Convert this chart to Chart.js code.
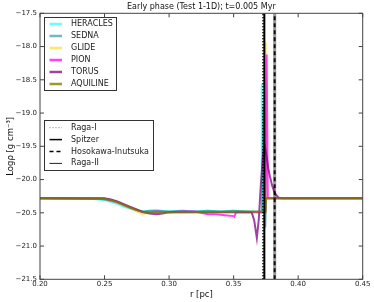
<!DOCTYPE html>
<html>
<head>
<meta charset="utf-8">
<script src="https://cdn.jsdelivr.net/npm/chart.js@4"></script>
<style>
  html, body { margin: 0; padding: 0; background: #fff; }
  #wrap { width: 374px; height: 302px; }
</style>
</head>
<body>
<div id="wrap"><canvas id="densityChart" width="374" height="302"></canvas></div>
<script>
// r [pc] and log rho values, one pair of arrays per code
const heraclesR = [0.20, 0.24, 0.245, 0.25, 0.255, 0.26, 0.265, 0.27, 0.275, 0.28, 0.285, 0.29, 0.295, 0.30, 0.31, 0.32, 0.33, 0.34, 0.35, 0.36, 0.37, 0.3715, 0.3718, 0.3746, 0.3749, 0.45];
const heraclesRho = [-20.28, -20.29, -20.30, -20.31, -20.34, -20.37, -20.41, -20.44, -20.47, -20.48, -20.47, -20.46, -20.47, -20.48, -20.47, -20.48, -20.47, -20.48, -20.47, -20.48, -20.48, -20.49, -18.57, -18.57, -20.28, -20.28];

const sednaR = [0.20, 0.245, 0.25, 0.255, 0.26, 0.265, 0.27, 0.275, 0.28, 0.285, 0.29, 0.30, 0.31, 0.32, 0.33, 0.34, 0.35, 0.36, 0.372, 0.373, 0.3745, 0.3752, 0.45];
const sednaRho = [-20.28, -20.29, -20.30, -20.32, -20.35, -20.39, -20.43, -20.46, -20.48, -20.47, -20.47, -20.48, -20.47, -20.48, -20.47, -20.48, -20.47, -20.48, -20.49, -18.9, -20.72, -20.28, -20.28];

const glideR = [0.20, 0.25, 0.255, 0.26, 0.265, 0.27, 0.275, 0.278, 0.282, 0.29, 0.30, 0.35, 0.374, 0.3748, 0.3756, 0.45];
const glideRho = [-20.28, -20.29, -20.31, -20.35, -20.39, -20.43, -20.48, -20.51, -20.51, -20.49, -20.49, -20.49, -20.49, -17.94, -20.28, -20.28];

const pionR = [0.20, 0.25, 0.255, 0.26, 0.265, 0.27, 0.275, 0.28, 0.285, 0.29, 0.30, 0.31, 0.32, 0.325, 0.33, 0.335, 0.34, 0.345, 0.35, 0.3505, 0.352, 0.36, 0.3745, 0.3756, 0.3765, 0.45];
const pionRho = [-20.28, -20.29, -20.31, -20.34, -20.38, -20.42, -20.46, -20.49, -20.49, -20.48, -20.49, -20.48, -20.48, -20.50, -20.52, -20.52, -20.53, -20.54, -20.55, -20.56, -20.49, -20.49, -20.49, -18.12, -20.28, -20.28];

const torusR = [0.20, 0.25, 0.255, 0.26, 0.265, 0.27, 0.275, 0.28, 0.285, 0.29, 0.295, 0.30, 0.35, 0.364, 0.366, 0.368, 0.3695, 0.371, 0.3725, 0.3738, 0.3756, 0.377, 0.3782, 0.38, 0.382, 0.3846, 0.387, 0.45];
const torusRho = [-20.28, -20.28, -20.30, -20.33, -20.37, -20.41, -20.45, -20.49, -20.51, -20.52, -20.51, -20.49, -20.49, -20.49, -20.62, -20.88, -20.6, -20.1, -19.7, -19.45, -19.66, -19.85, -19.96, -20.10, -20.21, -20.27, -20.28, -20.28];

const aquilineR = [0.20, 0.25, 0.255, 0.26, 0.265, 0.27, 0.275, 0.28, 0.285, 0.29, 0.30, 0.374, 0.3748, 0.3752, 0.45];
const aquilineRho = [-20.28, -20.29, -20.31, -20.34, -20.38, -20.42, -20.46, -20.49, -20.50, -20.50, -20.49, -20.48, -20.48, -20.28, -20.28];

// analytic ionisation-front positions
const frontNames = ['Raga-I', 'Spitzer', 'Hosokawa-Inutsuka', 'Raga-II'];
const frontR = [0.3728, 0.3738, 0.3818, 0.3818];

const xTicks = [0.20, 0.25, 0.30, 0.35, 0.40, 0.45];
const yTicks = [-21.5, -21.0, -20.5, -20.0, -19.5, -19.0, -18.5, -18.0, -17.5];

const FONT = '"DejaVu Sans", sans-serif';

const toPoints = (xs, ys) => xs.map((x, i) => ({ x: x, y: ys[i] }));

const codes = [
  { label: 'HERACLES', r: heraclesR, rho: heraclesRho, color: 'rgba(0, 255, 255, 0.6)' },
  { label: 'SEDNA', r: sednaR, rho: sednaRho, color: 'rgba(0, 128, 128, 0.55)' },
  { label: 'GLIDE', r: glideR, rho: glideRho, color: 'rgba(255, 215, 0, 0.6)' },
  { label: 'PION', r: pionR, rho: pionRho, color: 'rgba(255, 0, 255, 0.75)' },
  { label: 'TORUS', r: torusR, rho: torusRho, color: 'rgba(128, 0, 128, 0.75)' },
  { label: 'AQUILINE', r: aquilineR, rho: aquilineRho, color: 'rgba(128, 128, 0, 0.8)' },
];

const frontStyles = [
  { color: '#000', width: 2, dash: [1, 2], legendColor: '#777', legendWidth: 1, legendDash: [1, 2] },
  { color: '#000', width: 2, dash: [], legendColor: '#000', legendWidth: 1.5, legendDash: [] },
  { color: 'rgba(0,0,0,0.9)', width: 2, dash: [4, 3], legendColor: '#000', legendWidth: 1.5, legendDash: [4, 3] },
  { color: 'rgba(0,0,0,0.4)', width: 3, dash: [], legendColor: '#222', legendWidth: 1, legendDash: [] },
];

const datasets = [];
codes.forEach((c, i) => {
  datasets.push({
    label: c.label,
    data: toPoints(c.r, c.rho),
    borderColor: c.color,
    backgroundColor: c.color,
    borderWidth: 2,
    showLine: true,
    pointRadius: 0,
    tension: 0,
    order: 20 - i,
  });
});
frontNames.forEach((name, i) => {
  const s = frontStyles[i];
  datasets.push({
    label: name,
    data: toPoints([frontR[i], frontR[i]], [yTicks[0], yTicks[yTicks.length - 1]]),
    borderColor: s.color,
    borderWidth: s.width,
    borderDash: s.dash,
    showLine: true,
    pointRadius: 0,
    order: i === 3 ? 1 : 0,
  });
});

// frame, inward ticks, title and the two legend boxes
const framePlugin = {
  id: 'frame',
  afterDraw(chart) {
    const ctx = chart.ctx;
    const a = chart.chartArea;
    const xs = chart.scales.x;
    const ys = chart.scales.y;
    ctx.save();
    ctx.strokeStyle = '#444';
    ctx.lineWidth = 1;
    ctx.setLineDash([]);
    ctx.strokeRect(a.left, a.top, a.right - a.left, a.bottom - a.top);
    ctx.beginPath();
    xTicks.forEach(v => {
      const px = xs.getPixelForValue(v);
      ctx.moveTo(px, a.bottom); ctx.lineTo(px, a.bottom - 4);
      ctx.moveTo(px, a.top); ctx.lineTo(px, a.top + 4);
    });
    yTicks.forEach(v => {
      const py = ys.getPixelForValue(v);
      ctx.moveTo(a.left, py); ctx.lineTo(a.left + 4, py);
      ctx.moveTo(a.right, py); ctx.lineTo(a.right - 4, py);
    });
    ctx.stroke();

    ctx.fillStyle = '#111';
    ctx.font = '8px ' + FONT;
    ctx.textAlign = 'center';
    ctx.textBaseline = 'middle';
    ctx.fillText('Early phase (Test 1-1D); t=0.005 Myr', (a.left + a.right) / 2, 7);

    const drawLegend = (box, rows) => {
      ctx.fillStyle = '#fff';
      ctx.fillRect(box.x, box.y, box.w, box.h);
      ctx.strokeStyle = '#333';
      ctx.lineWidth = 1;
      ctx.setLineDash([]);
      ctx.strokeRect(box.x, box.y, box.w, box.h);
      rows.forEach((row, i) => {
        const y = box.first + i * box.step;
        ctx.strokeStyle = row.color;
        ctx.lineWidth = row.width;
        ctx.setLineDash(row.dash);
        ctx.beginPath();
        ctx.moveTo(box.x + 5, y);
        ctx.lineTo(box.x + 17.5, y);
        ctx.stroke();
        ctx.setLineDash([]);
        ctx.fillStyle = '#222';
        ctx.font = '8px ' + FONT;
        ctx.textAlign = 'left';
        ctx.textBaseline = 'middle';
        ctx.fillText(row.label, box.x + 26.5, y);
      });
    };
    drawLegend({ x: 44.5, y: 17.5, w: 72, h: 73, first: 24, step: 12 },
      codes.map(c => ({ label: c.label, color: c.color, width: 2.5, dash: [] })));
    drawLegend({ x: 44.5, y: 120.5, w: 109, h: 50, first: 127.7, step: 11.9 },
      frontNames.map((n, i) => ({ label: n, color: frontStyles[i].legendColor, width: frontStyles[i].legendWidth, dash: frontStyles[i].legendDash })));
    ctx.restore();
  },
};

new Chart(document.getElementById('densityChart').getContext('2d'), {
  type: 'scatter',
  data: { datasets: datasets },
  options: {
    responsive: false,
    animation: false,
    devicePixelRatio: 1,
    layout: { padding: { top: 13.3, right: 11.3, bottom: 0, left: 0 } },
    plugins: {
      legend: { display: false },
      tooltip: { enabled: false },
      title: { display: false },
    },
    scales: {
      x: {
        type: 'linear',
        min: 0.20,
        max: 0.45,
        afterFit: (scale) => { scale.height = 22.7; },
        afterBuildTicks: (scale) => { scale.ticks = xTicks.map(v => ({ value: v })); },
        grid: { display: false, drawTicks: false },
        border: { display: false },
        ticks: {
          padding: 1,
          color: '#222',
          font: { family: FONT, size: 7 },
          maxRotation: 0,
          callback: (v) => Number(v).toFixed(2),
        },
        title: {
          display: true,
          text: 'r [pc]',
          color: '#111',
          font: { family: FONT, size: 8.5 },
          padding: { top: 0, bottom: 2 },
        },
      },
      y: {
        type: 'linear',
        min: -21.5,
        max: -17.5,
        afterFit: (scale) => { scale.width = 40; },
        afterBuildTicks: (scale) => { scale.ticks = yTicks.map(v => ({ value: v })); },
        grid: { display: false, drawTicks: false },
        border: { display: false },
        ticks: {
          padding: 3,
          color: '#222',
          font: { family: FONT, size: 7 },
          callback: (v) => Number(v).toFixed(1).replace('-', '\u2212'),
        },
        title: {
          display: true,
          text: 'Log\u03c1 [g cm\u207b\u00b3]',
          color: '#111',
          font: { family: FONT, size: 8.5 },
          padding: { top: 6, bottom: 0 },
        },
      },
    },
  },
  plugins: [framePlugin],
});
</script>
</body>
</html>
